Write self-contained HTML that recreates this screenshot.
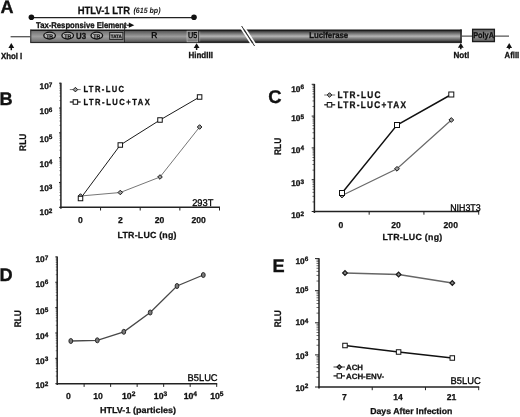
<!DOCTYPE html>
<html><head><meta charset="utf-8"><title>Figure</title>
<style>
html,body{margin:0;padding:0;background:#fff;}
body{width:520px;height:417px;overflow:hidden;font-family:"Liberation Sans",sans-serif;}
svg{display:block;font-family:"Liberation Sans",sans-serif;filter:grayscale(1);}
</style></head><body>
<svg width="520" height="417" viewBox="0 0 520 417" text-rendering="geometricPrecision">
<defs>
<linearGradient id="cyl" x1="0" y1="0" x2="0" y2="1">
<stop offset="0" stop-color="#3a3a3a"/>
<stop offset="0.08" stop-color="#1c1c1c"/>
<stop offset="0.17" stop-color="#4e4e4e"/>
<stop offset="0.5" stop-color="#b4b4b4"/>
<stop offset="0.83" stop-color="#4e4e4e"/>
<stop offset="0.92" stop-color="#1c1c1c"/>
<stop offset="1" stop-color="#3a3a3a"/>
</linearGradient>
<linearGradient id="flat" x1="0" y1="0" x2="0" y2="1">
<stop offset="0" stop-color="#727272"/>
<stop offset="0.5" stop-color="#9e9e9e"/>
<stop offset="1" stop-color="#727272"/>
</linearGradient>
<linearGradient id="u5" x1="0" y1="0" x2="0" y2="1">
<stop offset="0" stop-color="#707070"/>
<stop offset="0.5" stop-color="#a8a8a8"/>
<stop offset="1" stop-color="#707070"/>
</linearGradient>
<linearGradient id="rreg" x1="0" y1="0" x2="0" y2="1">
<stop offset="0" stop-color="#585858"/>
<stop offset="0.5" stop-color="#9c9c9c"/>
<stop offset="1" stop-color="#585858"/>
</linearGradient>
</defs>
<rect width="520" height="417" fill="#fff"/>

<g id="A">
<text x="0.5" y="12.7" font-size="18" font-weight="bold" text-anchor="start" fill="#111" stroke="#111" stroke-width="0.35" >A</text>
<text x="77.7" y="13.5" font-size="10.6" font-weight="bold" text-anchor="start" fill="#111" textLength="52.3" lengthAdjust="spacingAndGlyphs" stroke="#111" stroke-width="0.25" >HTLV-1 LTR</text>
<text x="133.5" y="12.8" font-size="7.8" font-weight="bold" text-anchor="start" fill="#111" textLength="27" lengthAdjust="spacingAndGlyphs" font-style="italic">(615 bp)</text>
<line x1="31" y1="17.5" x2="194" y2="17.5" stroke="#222" stroke-width="1.25"/>
<circle cx="31.4" cy="17.3" r="2.8" fill="#111"/><circle cx="194" cy="17.3" r="2.8" fill="#111"/>
<text x="36" y="27.6" font-size="8.4" font-weight="bold" text-anchor="start" fill="#111" textLength="90.6" lengthAdjust="spacingAndGlyphs" stroke="#111" stroke-width="0.3" >Tax-Responsive Element</text>
<path d="M126.5 25.2h3" stroke="#111" stroke-width="1.1"/><path d="M128.8 22.6L134.3 25.2L128.8 27.8Z" fill="#111"/>
<line x1="124.6" y1="25" x2="124.6" y2="30" stroke="#222" stroke-width="0.9"/>
<line x1="10.6" y1="36.7" x2="31" y2="36.7" stroke="#555" stroke-width="1.3"/>
<line x1="461" y1="36.2" x2="509" y2="36.2" stroke="#555" stroke-width="1.3"/>
<rect x="30.3" y="29.4" width="431.4" height="13.7" fill="url(#cyl)"/>
<rect x="460.3" y="29.4" width="1.4" height="13.7" fill="#222"/>
<rect x="30.8" y="31" width="93.5" height="10.9" fill="url(#flat)"/>
<rect x="30.3" y="29.6" width="1" height="13.2" fill="#333"/>
<rect x="124.9" y="31" width="61.8" height="10.9" fill="url(#rreg)"/>
<line x1="124.5" y1="29.6" x2="124.5" y2="42.8" stroke="#222" stroke-width="0.8"/>
<ellipse cx="49.6" cy="35.6" rx="5.8" ry="3.4" fill="#b4b4b4" stroke="#111" stroke-width="1.3"/>
<text x="49.6" y="37.5" font-size="5.2" font-weight="bold" text-anchor="middle" fill="#111" stroke="#111" stroke-width="0.2" >TR</text>
<ellipse cx="67.7" cy="35.6" rx="5.8" ry="3.4" fill="#b4b4b4" stroke="#111" stroke-width="1.3"/>
<text x="67.7" y="37.5" font-size="5.2" font-weight="bold" text-anchor="middle" fill="#111" stroke="#111" stroke-width="0.2" >TR</text>
<ellipse cx="96.8" cy="35.6" rx="5.8" ry="3.4" fill="#b4b4b4" stroke="#111" stroke-width="1.3"/>
<text x="96.8" y="37.5" font-size="5.2" font-weight="bold" text-anchor="middle" fill="#111" stroke="#111" stroke-width="0.2" >TR</text>
<text x="76" y="38.5" font-size="8.8" font-weight="bold" text-anchor="start" fill="#111" textLength="10" lengthAdjust="spacingAndGlyphs" stroke="#111" stroke-width="0.3" >U3</text>
<rect x="109.7" y="32.4" width="13.2" height="7" fill="#adadad" stroke="#222" stroke-width="1"/>
<text x="116.3" y="37.7" font-size="4.8" font-weight="bold" text-anchor="middle" fill="#111" textLength="11" lengthAdjust="spacingAndGlyphs" stroke="#111" stroke-width="0.25" >TATA</text>
<text x="154.3" y="38.1" font-size="8.4" font-weight="normal" text-anchor="middle" fill="#000" stroke="#000" stroke-width="0.4" >R</text>
<rect x="187" y="31.2" width="11" height="10.6" fill="url(#u5)" stroke="#b8b8b8" stroke-width="0.7"/>
<line x1="198.7" y1="30.5" x2="198.7" y2="42.5" stroke="#2a2a2a" stroke-width="0.9"/><line x1="199.7" y1="31.5" x2="199.7" y2="41.5" stroke="#b0b0b0" stroke-width="0.8" opacity="0.7"/>
<text x="192.7" y="38.1" font-size="8.6" font-weight="normal" text-anchor="middle" fill="#000" textLength="9.2" lengthAdjust="spacingAndGlyphs" stroke="#000" stroke-width="0.35" >U5</text>
<path d="M239.8 26L252.8 46" stroke="#fff" stroke-width="1.7"/><path d="M243.4 26L256.4 46" stroke="#fff" stroke-width="1.7"/>
<path d="M241.6 26L254.6 46" stroke="#2a2a2a" stroke-width="1"/>
<text x="309.2" y="38.2" font-size="8.5" font-weight="bold" text-anchor="start" fill="#111" textLength="39" lengthAdjust="spacingAndGlyphs" stroke="#111" stroke-width="0.35" >Luciferase</text>
<rect x="472.6" y="29.3" width="21.8" height="12.3" fill="url(#rreg)" stroke="#1c1c1c" stroke-width="1.3"/>
<text x="473.2" y="38.3" font-size="8.4" font-weight="bold" text-anchor="start" fill="#111" textLength="20.8" lengthAdjust="spacingAndGlyphs" stroke="#111" stroke-width="0.35" >PolyA</text>
<path d="M11.3 45.3V50.2" stroke="#111" stroke-width="1.5"/><path d="M8.4 47.9L11.3 43.0L14.200000000000001 47.9Z" fill="#111"/>
<text x="0.9" y="58.5" font-size="8.7" font-weight="bold" text-anchor="start" fill="#111" textLength="21.4" lengthAdjust="spacingAndGlyphs" stroke="#111" stroke-width="0.3" >XhoI I</text>
<path d="M196.6 45.5V50" stroke="#111" stroke-width="1.5"/><path d="M193.7 48.1L196.6 43.2L199.5 48.1Z" fill="#111"/>
<text x="188.5" y="58.4" font-size="8.7" font-weight="bold" text-anchor="start" fill="#111" textLength="24.4" lengthAdjust="spacingAndGlyphs" stroke="#111" stroke-width="0.3" >HindIII</text>
<path d="M460.8 45.2V49.3" stroke="#111" stroke-width="1.5"/><path d="M457.90000000000003 47.800000000000004L460.8 42.900000000000006L463.7 47.800000000000004Z" fill="#111"/>
<text x="453.5" y="57.7" font-size="8.7" font-weight="bold" text-anchor="start" fill="#111" textLength="15.7" lengthAdjust="spacingAndGlyphs" stroke="#111" stroke-width="0.3" >NotI</text>
<path d="M509.2 45.4V49.3" stroke="#111" stroke-width="1.5"/><path d="M506.3 48.0L509.2 43.1L512.1 48.0Z" fill="#111"/>
<text x="504.6" y="57.7" font-size="8.7" font-weight="bold" text-anchor="start" fill="#111" textLength="14.6" lengthAdjust="spacingAndGlyphs" stroke="#111" stroke-width="0.3" >AflII</text>
</g>
<g id="B">
<text x="-0.5" y="104.6" font-size="18.2" font-weight="bold" text-anchor="start" fill="#111" stroke="#111" stroke-width="0.35" >B</text>
<text transform="translate(25.5 142.3) rotate(-90)" font-size="9.6" font-weight="bold" text-anchor="middle" fill="#111" stroke="#111" stroke-width="0.25" textLength="17.2" lengthAdjust="spacingAndGlyphs">RLU</text>
<line x1="60.9" y1="82.8" x2="60.9" y2="208.8" stroke="#222" stroke-width="1.5"/>
<line x1="58.99999999999999" y1="83.20" x2="60.9" y2="83.20" stroke="#222" stroke-width="1"/>
<text x="39.6" y="89.35" font-size="8.3" font-weight="bold" text-anchor="start" fill="#111" stroke="#111" stroke-width="0.3">10<tspan font-size="6.4" dy="-2.4">7</tspan></text>
<line x1="59.4" y1="100.55" x2="60.9" y2="100.55" stroke="#222" stroke-width="0.85" opacity="0.6"/>
<line x1="59.4" y1="96.18" x2="60.9" y2="96.18" stroke="#222" stroke-width="0.85" opacity="0.6"/>
<line x1="59.4" y1="93.08" x2="60.9" y2="93.08" stroke="#222" stroke-width="0.85" opacity="0.6"/>
<line x1="59.4" y1="90.67" x2="60.9" y2="90.67" stroke="#222" stroke-width="0.85" opacity="0.6"/>
<line x1="59.4" y1="88.71" x2="60.9" y2="88.71" stroke="#222" stroke-width="0.85" opacity="0.6"/>
<line x1="59.4" y1="87.04" x2="60.9" y2="87.04" stroke="#222" stroke-width="0.85" opacity="0.6"/>
<line x1="59.4" y1="85.61" x2="60.9" y2="85.61" stroke="#222" stroke-width="0.85" opacity="0.6"/>
<line x1="59.4" y1="84.34" x2="60.9" y2="84.34" stroke="#222" stroke-width="0.85" opacity="0.6"/>
<line x1="58.99999999999999" y1="108.02" x2="60.9" y2="108.02" stroke="#222" stroke-width="1"/>
<text x="39.6" y="114.05" font-size="8.3" font-weight="bold" text-anchor="start" fill="#111" stroke="#111" stroke-width="0.3">10<tspan font-size="6.4" dy="-2.4">6</tspan></text>
<line x1="59.4" y1="125.37" x2="60.9" y2="125.37" stroke="#222" stroke-width="0.85" opacity="0.6"/>
<line x1="59.4" y1="121.00" x2="60.9" y2="121.00" stroke="#222" stroke-width="0.85" opacity="0.6"/>
<line x1="59.4" y1="117.90" x2="60.9" y2="117.90" stroke="#222" stroke-width="0.85" opacity="0.6"/>
<line x1="59.4" y1="115.49" x2="60.9" y2="115.49" stroke="#222" stroke-width="0.85" opacity="0.6"/>
<line x1="59.4" y1="113.53" x2="60.9" y2="113.53" stroke="#222" stroke-width="0.85" opacity="0.6"/>
<line x1="59.4" y1="111.86" x2="60.9" y2="111.86" stroke="#222" stroke-width="0.85" opacity="0.6"/>
<line x1="59.4" y1="110.43" x2="60.9" y2="110.43" stroke="#222" stroke-width="0.85" opacity="0.6"/>
<line x1="59.4" y1="109.16" x2="60.9" y2="109.16" stroke="#222" stroke-width="0.85" opacity="0.6"/>
<line x1="58.99999999999999" y1="132.84" x2="60.9" y2="132.84" stroke="#222" stroke-width="1"/>
<text x="39.6" y="141.65" font-size="8.3" font-weight="bold" text-anchor="start" fill="#111" stroke="#111" stroke-width="0.3">10<tspan font-size="6.4" dy="-2.4">5</tspan></text>
<line x1="59.4" y1="150.19" x2="60.9" y2="150.19" stroke="#222" stroke-width="0.85" opacity="0.6"/>
<line x1="59.4" y1="145.82" x2="60.9" y2="145.82" stroke="#222" stroke-width="0.85" opacity="0.6"/>
<line x1="59.4" y1="142.72" x2="60.9" y2="142.72" stroke="#222" stroke-width="0.85" opacity="0.6"/>
<line x1="59.4" y1="140.31" x2="60.9" y2="140.31" stroke="#222" stroke-width="0.85" opacity="0.6"/>
<line x1="59.4" y1="138.35" x2="60.9" y2="138.35" stroke="#222" stroke-width="0.85" opacity="0.6"/>
<line x1="59.4" y1="136.68" x2="60.9" y2="136.68" stroke="#222" stroke-width="0.85" opacity="0.6"/>
<line x1="59.4" y1="135.25" x2="60.9" y2="135.25" stroke="#222" stroke-width="0.85" opacity="0.6"/>
<line x1="59.4" y1="133.98" x2="60.9" y2="133.98" stroke="#222" stroke-width="0.85" opacity="0.6"/>
<line x1="58.99999999999999" y1="157.66" x2="60.9" y2="157.66" stroke="#222" stroke-width="1"/>
<text x="39.6" y="166.65" font-size="8.3" font-weight="bold" text-anchor="start" fill="#111" stroke="#111" stroke-width="0.3">10<tspan font-size="6.4" dy="-2.4">4</tspan></text>
<line x1="59.4" y1="175.01" x2="60.9" y2="175.01" stroke="#222" stroke-width="0.85" opacity="0.6"/>
<line x1="59.4" y1="170.64" x2="60.9" y2="170.64" stroke="#222" stroke-width="0.85" opacity="0.6"/>
<line x1="59.4" y1="167.54" x2="60.9" y2="167.54" stroke="#222" stroke-width="0.85" opacity="0.6"/>
<line x1="59.4" y1="165.13" x2="60.9" y2="165.13" stroke="#222" stroke-width="0.85" opacity="0.6"/>
<line x1="59.4" y1="163.17" x2="60.9" y2="163.17" stroke="#222" stroke-width="0.85" opacity="0.6"/>
<line x1="59.4" y1="161.50" x2="60.9" y2="161.50" stroke="#222" stroke-width="0.85" opacity="0.6"/>
<line x1="59.4" y1="160.07" x2="60.9" y2="160.07" stroke="#222" stroke-width="0.85" opacity="0.6"/>
<line x1="59.4" y1="158.80" x2="60.9" y2="158.80" stroke="#222" stroke-width="0.85" opacity="0.6"/>
<line x1="58.99999999999999" y1="182.48" x2="60.9" y2="182.48" stroke="#222" stroke-width="1"/>
<text x="39.6" y="191.05" font-size="8.3" font-weight="bold" text-anchor="start" fill="#111" stroke="#111" stroke-width="0.3">10<tspan font-size="6.4" dy="-2.4">3</tspan></text>
<line x1="59.4" y1="199.83" x2="60.9" y2="199.83" stroke="#222" stroke-width="0.85" opacity="0.6"/>
<line x1="59.4" y1="195.46" x2="60.9" y2="195.46" stroke="#222" stroke-width="0.85" opacity="0.6"/>
<line x1="59.4" y1="192.36" x2="60.9" y2="192.36" stroke="#222" stroke-width="0.85" opacity="0.6"/>
<line x1="59.4" y1="189.95" x2="60.9" y2="189.95" stroke="#222" stroke-width="0.85" opacity="0.6"/>
<line x1="59.4" y1="187.99" x2="60.9" y2="187.99" stroke="#222" stroke-width="0.85" opacity="0.6"/>
<line x1="59.4" y1="186.32" x2="60.9" y2="186.32" stroke="#222" stroke-width="0.85" opacity="0.6"/>
<line x1="59.4" y1="184.89" x2="60.9" y2="184.89" stroke="#222" stroke-width="0.85" opacity="0.6"/>
<line x1="59.4" y1="183.62" x2="60.9" y2="183.62" stroke="#222" stroke-width="0.85" opacity="0.6"/>
<line x1="58.99999999999999" y1="207.30" x2="60.9" y2="207.30" stroke="#222" stroke-width="1"/>
<text x="39.6" y="215.45" font-size="8.3" font-weight="bold" text-anchor="start" fill="#111" stroke="#111" stroke-width="0.3">10<tspan font-size="6.4" dy="-2.4">2</tspan></text>
<line x1="60.199999999999996" y1="207.3" x2="220.0" y2="207.3" stroke="#222" stroke-width="1.4"/>
<line x1="100.55" y1="207.3" x2="100.55" y2="210.5" stroke="#222" stroke-width="1"/>
<line x1="140.20" y1="207.3" x2="140.20" y2="210.5" stroke="#222" stroke-width="1"/>
<line x1="179.85" y1="207.3" x2="179.85" y2="210.5" stroke="#222" stroke-width="1"/>
<line x1="219.50" y1="207.3" x2="219.50" y2="210.5" stroke="#222" stroke-width="1"/>
<polyline fill="none" stroke="#777" stroke-width="1" points="80.5,196 120.3,192.5 160,177 199.6,127"/>
<polyline fill="none" stroke="#1a1a1a" stroke-width="1.0" points="80.5,198.5 120.3,145 160,120 199.6,97"/>
<path d="M78.2 196L80.5 193.7L82.8 196L80.5 198.3Z" fill="#9a9a9a" stroke="#1a1a1a" stroke-width="1" stroke-linejoin="miter"/>
<path d="M118.0 192.5L120.3 190.2L122.6 192.5L120.3 194.8Z" fill="#9a9a9a" stroke="#1a1a1a" stroke-width="1" stroke-linejoin="miter"/>
<path d="M157.7 177L160 174.7L162.3 177L160 179.3Z" fill="#9a9a9a" stroke="#1a1a1a" stroke-width="1" stroke-linejoin="miter"/>
<path d="M197.29999999999998 127L199.6 124.7L201.9 127L199.6 129.3Z" fill="#9a9a9a" stroke="#1a1a1a" stroke-width="1" stroke-linejoin="miter"/>
<rect x="78.25" y="196.25" width="4.5" height="4.5" fill="#fff" stroke="#111" stroke-width="1"/>
<rect x="118.05" y="142.75" width="4.5" height="4.5" fill="#fff" stroke="#111" stroke-width="1"/>
<rect x="157.75" y="117.75" width="4.5" height="4.5" fill="#fff" stroke="#111" stroke-width="1"/>
<rect x="197.35" y="94.75" width="4.5" height="4.5" fill="#fff" stroke="#111" stroke-width="1"/>
<text x="80.5" y="222.9" font-size="8.6" font-weight="bold" text-anchor="middle" fill="#111" stroke="#111" stroke-width="0.25" >0</text>
<text x="120.3" y="222.9" font-size="8.6" font-weight="bold" text-anchor="middle" fill="#111" stroke="#111" stroke-width="0.25" >2</text>
<text x="159.6" y="222.9" font-size="8.6" font-weight="bold" text-anchor="middle" fill="#111" stroke="#111" stroke-width="0.25" >20</text>
<text x="198.7" y="222.9" font-size="8.6" font-weight="bold" text-anchor="middle" fill="#111" stroke="#111" stroke-width="0.25" >200</text>
<text x="117.5" y="237.6" font-size="8.8" font-weight="bold" text-anchor="start" fill="#111" textLength="59" lengthAdjust="spacing" stroke="#111" stroke-width="0.25" >LTR-LUC (ng)</text>
<text x="192.2" y="205.6" font-size="9.7" font-weight="normal" text-anchor="start" fill="#000" textLength="21.2" lengthAdjust="spacingAndGlyphs" stroke="#000" stroke-width="0.3" >293T</text>
<line x1="69.8" y1="89.6" x2="80.7" y2="89.6" stroke="#777" stroke-width="1"/>
<path d="M73.10000000000001 89.6L75.4 87.3L77.7 89.6L75.4 91.89999999999999Z" fill="#9a9a9a" stroke="#1a1a1a" stroke-width="1" stroke-linejoin="miter"/>
<text transform="translate(83.4 92.1) scale(0.86 1)" font-size="8.8" font-weight="bold" fill="#111" stroke="#111" stroke-width="0.3" textLength="47.21" lengthAdjust="spacing">LTR-LUC</text>
<line x1="69.8" y1="102" x2="80.7" y2="102" stroke="#111" stroke-width="1.2"/>
<rect x="73.15" y="99.75" width="4.5" height="4.5" fill="#fff" stroke="#111" stroke-width="1"/>
<text transform="translate(83.4 104.7) scale(0.86 1)" font-size="8.8" font-weight="bold" fill="#111" stroke="#111" stroke-width="0.3" textLength="77.21" lengthAdjust="spacing">LTR-LUC+TAX</text>
</g>
<g id="C">
<text x="268.2" y="102.8" font-size="18.4" font-weight="bold" text-anchor="start" fill="#111" stroke="#111" stroke-width="0.35" >C</text>
<text transform="translate(280.5 146.4) rotate(-90)" font-size="9.6" font-weight="bold" text-anchor="middle" fill="#111" stroke="#111" stroke-width="0.25" textLength="17.2" lengthAdjust="spacingAndGlyphs">RLU</text>
<line x1="314.4" y1="83.89999999999999" x2="314.4" y2="213.0" stroke="#222" stroke-width="1.5"/>
<line x1="311.7" y1="84.30" x2="314.4" y2="84.30" stroke="#222" stroke-width="1"/>
<text x="291.2" y="91.65" font-size="8.3" font-weight="bold" text-anchor="start" fill="#111" stroke="#111" stroke-width="0.3">10<tspan font-size="6.4" dy="-2.4">6</tspan></text>
<line x1="312.5" y1="106.53" x2="314.4" y2="106.53" stroke="#222" stroke-width="0.85" opacity="0.8"/>
<line x1="312.5" y1="100.93" x2="314.4" y2="100.93" stroke="#222" stroke-width="0.85" opacity="0.8"/>
<line x1="312.5" y1="96.95" x2="314.4" y2="96.95" stroke="#222" stroke-width="0.85" opacity="0.8"/>
<line x1="312.5" y1="93.87" x2="314.4" y2="93.87" stroke="#222" stroke-width="0.85" opacity="0.8"/>
<line x1="312.5" y1="91.35" x2="314.4" y2="91.35" stroke="#222" stroke-width="0.85" opacity="0.8"/>
<line x1="312.5" y1="89.23" x2="314.4" y2="89.23" stroke="#222" stroke-width="0.85" opacity="0.8"/>
<line x1="312.5" y1="87.38" x2="314.4" y2="87.38" stroke="#222" stroke-width="0.85" opacity="0.8"/>
<line x1="312.5" y1="85.76" x2="314.4" y2="85.76" stroke="#222" stroke-width="0.85" opacity="0.8"/>
<line x1="311.7" y1="116.10" x2="314.4" y2="116.10" stroke="#222" stroke-width="1"/>
<text x="291.2" y="121.15" font-size="8.3" font-weight="bold" text-anchor="start" fill="#111" stroke="#111" stroke-width="0.3">10<tspan font-size="6.4" dy="-2.4">5</tspan></text>
<line x1="312.5" y1="138.33" x2="314.4" y2="138.33" stroke="#222" stroke-width="0.85" opacity="0.8"/>
<line x1="312.5" y1="132.73" x2="314.4" y2="132.73" stroke="#222" stroke-width="0.85" opacity="0.8"/>
<line x1="312.5" y1="128.75" x2="314.4" y2="128.75" stroke="#222" stroke-width="0.85" opacity="0.8"/>
<line x1="312.5" y1="125.67" x2="314.4" y2="125.67" stroke="#222" stroke-width="0.85" opacity="0.8"/>
<line x1="312.5" y1="123.15" x2="314.4" y2="123.15" stroke="#222" stroke-width="0.85" opacity="0.8"/>
<line x1="312.5" y1="121.03" x2="314.4" y2="121.03" stroke="#222" stroke-width="0.85" opacity="0.8"/>
<line x1="312.5" y1="119.18" x2="314.4" y2="119.18" stroke="#222" stroke-width="0.85" opacity="0.8"/>
<line x1="312.5" y1="117.56" x2="314.4" y2="117.56" stroke="#222" stroke-width="0.85" opacity="0.8"/>
<line x1="311.7" y1="147.90" x2="314.4" y2="147.90" stroke="#222" stroke-width="1"/>
<text x="291.2" y="152.80" font-size="8.3" font-weight="bold" text-anchor="start" fill="#111" stroke="#111" stroke-width="0.3">10<tspan font-size="6.4" dy="-2.4">4</tspan></text>
<line x1="312.5" y1="170.13" x2="314.4" y2="170.13" stroke="#222" stroke-width="0.85" opacity="0.8"/>
<line x1="312.5" y1="164.53" x2="314.4" y2="164.53" stroke="#222" stroke-width="0.85" opacity="0.8"/>
<line x1="312.5" y1="160.55" x2="314.4" y2="160.55" stroke="#222" stroke-width="0.85" opacity="0.8"/>
<line x1="312.5" y1="157.47" x2="314.4" y2="157.47" stroke="#222" stroke-width="0.85" opacity="0.8"/>
<line x1="312.5" y1="154.95" x2="314.4" y2="154.95" stroke="#222" stroke-width="0.85" opacity="0.8"/>
<line x1="312.5" y1="152.83" x2="314.4" y2="152.83" stroke="#222" stroke-width="0.85" opacity="0.8"/>
<line x1="312.5" y1="150.98" x2="314.4" y2="150.98" stroke="#222" stroke-width="0.85" opacity="0.8"/>
<line x1="312.5" y1="149.36" x2="314.4" y2="149.36" stroke="#222" stroke-width="0.85" opacity="0.8"/>
<line x1="311.7" y1="179.70" x2="314.4" y2="179.70" stroke="#222" stroke-width="1"/>
<text x="291.2" y="186.45" font-size="8.3" font-weight="bold" text-anchor="start" fill="#111" stroke="#111" stroke-width="0.3">10<tspan font-size="6.4" dy="-2.4">3</tspan></text>
<line x1="312.5" y1="201.93" x2="314.4" y2="201.93" stroke="#222" stroke-width="0.85" opacity="0.8"/>
<line x1="312.5" y1="196.33" x2="314.4" y2="196.33" stroke="#222" stroke-width="0.85" opacity="0.8"/>
<line x1="312.5" y1="192.35" x2="314.4" y2="192.35" stroke="#222" stroke-width="0.85" opacity="0.8"/>
<line x1="312.5" y1="189.27" x2="314.4" y2="189.27" stroke="#222" stroke-width="0.85" opacity="0.8"/>
<line x1="312.5" y1="186.75" x2="314.4" y2="186.75" stroke="#222" stroke-width="0.85" opacity="0.8"/>
<line x1="312.5" y1="184.63" x2="314.4" y2="184.63" stroke="#222" stroke-width="0.85" opacity="0.8"/>
<line x1="312.5" y1="182.78" x2="314.4" y2="182.78" stroke="#222" stroke-width="0.85" opacity="0.8"/>
<line x1="312.5" y1="181.16" x2="314.4" y2="181.16" stroke="#222" stroke-width="0.85" opacity="0.8"/>
<line x1="311.7" y1="211.50" x2="314.4" y2="211.50" stroke="#222" stroke-width="1"/>
<text x="291.2" y="218.35" font-size="8.3" font-weight="bold" text-anchor="start" fill="#111" stroke="#111" stroke-width="0.3">10<tspan font-size="6.4" dy="-2.4">2</tspan></text>
<line x1="313.7" y1="211.5" x2="479.2" y2="211.5" stroke="#222" stroke-width="1.4"/>
<line x1="369.17" y1="211.5" x2="369.17" y2="214.7" stroke="#222" stroke-width="1"/>
<line x1="423.93" y1="211.5" x2="423.93" y2="214.7" stroke="#222" stroke-width="1"/>
<line x1="478.70" y1="211.5" x2="478.70" y2="214.7" stroke="#222" stroke-width="1"/>
<polyline fill="none" stroke="#6a6a6a" stroke-width="1.25" points="342,195.5 397,168.8 451.3,120"/>
<polyline fill="none" stroke="#111" stroke-width="1.45" points="342,193 397,125 451.3,94.5"/>
<path d="M339.6 195.5L342 193.1L344.4 195.5L342 197.9Z" fill="#9a9a9a" stroke="#1a1a1a" stroke-width="1" stroke-linejoin="miter"/>
<path d="M394.6 168.8L397 166.4L399.4 168.8L397 171.20000000000002Z" fill="#9a9a9a" stroke="#1a1a1a" stroke-width="1" stroke-linejoin="miter"/>
<path d="M448.90000000000003 120L451.3 117.6L453.7 120L451.3 122.4Z" fill="#9a9a9a" stroke="#1a1a1a" stroke-width="1" stroke-linejoin="miter"/>
<rect x="339.5" y="190.5" width="5" height="5" fill="#fff" stroke="#111" stroke-width="1"/>
<rect x="394.5" y="122.5" width="5" height="5" fill="#fff" stroke="#111" stroke-width="1"/>
<rect x="448.8" y="92.0" width="5" height="5" fill="#fff" stroke="#111" stroke-width="1"/>
<text x="340.8" y="227.9" font-size="8.6" font-weight="bold" text-anchor="middle" fill="#111" stroke="#111" stroke-width="0.25" >0</text>
<text x="396" y="227.9" font-size="8.6" font-weight="bold" text-anchor="middle" fill="#111" stroke="#111" stroke-width="0.25" >20</text>
<text x="450.75" y="227.9" font-size="8.6" font-weight="bold" text-anchor="middle" fill="#111" stroke="#111" stroke-width="0.25" >200</text>
<text x="382.5" y="240.2" font-size="8.8" font-weight="bold" text-anchor="start" fill="#111" textLength="59.8" lengthAdjust="spacing" stroke="#111" stroke-width="0.25" >LTR-LUC (ng)</text>
<text x="450.2" y="210.6" font-size="9.7" font-weight="normal" text-anchor="start" fill="#000" textLength="30.5" lengthAdjust="spacingAndGlyphs" stroke="#000" stroke-width="0.3" >NIH3T3</text>
<line x1="324.2" y1="95" x2="335.2" y2="95" stroke="#777" stroke-width="1"/>
<path d="M327.2 95L329.5 92.7L331.8 95L329.5 97.3Z" fill="#9a9a9a" stroke="#1a1a1a" stroke-width="1" stroke-linejoin="miter"/>
<text transform="translate(337.5 98) scale(0.86 1)" font-size="9.6" font-weight="bold" fill="#111" stroke="#111" stroke-width="0.3" textLength="50.00" lengthAdjust="spacing">LTR-LUC</text>
<line x1="324.2" y1="104.8" x2="335.2" y2="104.8" stroke="#111" stroke-width="1.2"/>
<rect x="327.25" y="102.55" width="4.5" height="4.5" fill="#fff" stroke="#111" stroke-width="1"/>
<text transform="translate(337.5 107.9) scale(0.86 1)" font-size="9.6" font-weight="bold" fill="#111" stroke="#111" stroke-width="0.3" textLength="79.65" lengthAdjust="spacing">LTR-LUC+TAX</text>
</g>
<g id="D">
<text x="-0.5" y="280.6" font-size="18.2" font-weight="bold" text-anchor="start" fill="#111" stroke="#111" stroke-width="0.35" >D</text>
<text transform="translate(20.8 318.7) rotate(-90)" font-size="9.6" font-weight="bold" text-anchor="middle" fill="#111" stroke="#111" stroke-width="0.25" textLength="17.2" lengthAdjust="spacingAndGlyphs">RLU</text>
<line x1="57.2" y1="256.5" x2="57.2" y2="384.9" stroke="#222" stroke-width="1.5"/>
<line x1="55.3" y1="256.90" x2="57.2" y2="256.90" stroke="#222" stroke-width="1"/>
<text x="35.5" y="262.45" font-size="8.3" font-weight="bold" text-anchor="start" fill="#111" stroke="#111" stroke-width="0.3">10<tspan font-size="6.4" dy="-2.4">7</tspan></text>
<line x1="55.7" y1="274.63" x2="57.2" y2="274.63" stroke="#222" stroke-width="0.85" opacity="0.6"/>
<line x1="55.7" y1="270.16" x2="57.2" y2="270.16" stroke="#222" stroke-width="0.85" opacity="0.6"/>
<line x1="55.7" y1="266.99" x2="57.2" y2="266.99" stroke="#222" stroke-width="0.85" opacity="0.6"/>
<line x1="55.7" y1="264.53" x2="57.2" y2="264.53" stroke="#222" stroke-width="0.85" opacity="0.6"/>
<line x1="55.7" y1="262.53" x2="57.2" y2="262.53" stroke="#222" stroke-width="0.85" opacity="0.6"/>
<line x1="55.7" y1="260.83" x2="57.2" y2="260.83" stroke="#222" stroke-width="0.85" opacity="0.6"/>
<line x1="55.7" y1="259.36" x2="57.2" y2="259.36" stroke="#222" stroke-width="0.85" opacity="0.6"/>
<line x1="55.7" y1="258.06" x2="57.2" y2="258.06" stroke="#222" stroke-width="0.85" opacity="0.6"/>
<line x1="55.3" y1="282.26" x2="57.2" y2="282.26" stroke="#222" stroke-width="1"/>
<text x="35.5" y="286.85" font-size="8.3" font-weight="bold" text-anchor="start" fill="#111" stroke="#111" stroke-width="0.3">10<tspan font-size="6.4" dy="-2.4">6</tspan></text>
<line x1="55.7" y1="299.99" x2="57.2" y2="299.99" stroke="#222" stroke-width="0.85" opacity="0.6"/>
<line x1="55.7" y1="295.52" x2="57.2" y2="295.52" stroke="#222" stroke-width="0.85" opacity="0.6"/>
<line x1="55.7" y1="292.35" x2="57.2" y2="292.35" stroke="#222" stroke-width="0.85" opacity="0.6"/>
<line x1="55.7" y1="289.89" x2="57.2" y2="289.89" stroke="#222" stroke-width="0.85" opacity="0.6"/>
<line x1="55.7" y1="287.89" x2="57.2" y2="287.89" stroke="#222" stroke-width="0.85" opacity="0.6"/>
<line x1="55.7" y1="286.19" x2="57.2" y2="286.19" stroke="#222" stroke-width="0.85" opacity="0.6"/>
<line x1="55.7" y1="284.72" x2="57.2" y2="284.72" stroke="#222" stroke-width="0.85" opacity="0.6"/>
<line x1="55.7" y1="283.42" x2="57.2" y2="283.42" stroke="#222" stroke-width="0.85" opacity="0.6"/>
<line x1="55.3" y1="307.62" x2="57.2" y2="307.62" stroke="#222" stroke-width="1"/>
<text x="35.5" y="314.45" font-size="8.3" font-weight="bold" text-anchor="start" fill="#111" stroke="#111" stroke-width="0.3">10<tspan font-size="6.4" dy="-2.4">5</tspan></text>
<line x1="55.7" y1="325.35" x2="57.2" y2="325.35" stroke="#222" stroke-width="0.85" opacity="0.6"/>
<line x1="55.7" y1="320.88" x2="57.2" y2="320.88" stroke="#222" stroke-width="0.85" opacity="0.6"/>
<line x1="55.7" y1="317.71" x2="57.2" y2="317.71" stroke="#222" stroke-width="0.85" opacity="0.6"/>
<line x1="55.7" y1="315.25" x2="57.2" y2="315.25" stroke="#222" stroke-width="0.85" opacity="0.6"/>
<line x1="55.7" y1="313.25" x2="57.2" y2="313.25" stroke="#222" stroke-width="0.85" opacity="0.6"/>
<line x1="55.7" y1="311.55" x2="57.2" y2="311.55" stroke="#222" stroke-width="0.85" opacity="0.6"/>
<line x1="55.7" y1="310.08" x2="57.2" y2="310.08" stroke="#222" stroke-width="0.85" opacity="0.6"/>
<line x1="55.7" y1="308.78" x2="57.2" y2="308.78" stroke="#222" stroke-width="0.85" opacity="0.6"/>
<line x1="55.3" y1="332.98" x2="57.2" y2="332.98" stroke="#222" stroke-width="1"/>
<text x="35.5" y="339.25" font-size="8.3" font-weight="bold" text-anchor="start" fill="#111" stroke="#111" stroke-width="0.3">10<tspan font-size="6.4" dy="-2.4">4</tspan></text>
<line x1="55.7" y1="350.71" x2="57.2" y2="350.71" stroke="#222" stroke-width="0.85" opacity="0.6"/>
<line x1="55.7" y1="346.24" x2="57.2" y2="346.24" stroke="#222" stroke-width="0.85" opacity="0.6"/>
<line x1="55.7" y1="343.07" x2="57.2" y2="343.07" stroke="#222" stroke-width="0.85" opacity="0.6"/>
<line x1="55.7" y1="340.61" x2="57.2" y2="340.61" stroke="#222" stroke-width="0.85" opacity="0.6"/>
<line x1="55.7" y1="338.61" x2="57.2" y2="338.61" stroke="#222" stroke-width="0.85" opacity="0.6"/>
<line x1="55.7" y1="336.91" x2="57.2" y2="336.91" stroke="#222" stroke-width="0.85" opacity="0.6"/>
<line x1="55.7" y1="335.44" x2="57.2" y2="335.44" stroke="#222" stroke-width="0.85" opacity="0.6"/>
<line x1="55.7" y1="334.14" x2="57.2" y2="334.14" stroke="#222" stroke-width="0.85" opacity="0.6"/>
<line x1="55.3" y1="358.34" x2="57.2" y2="358.34" stroke="#222" stroke-width="1"/>
<text x="35.5" y="363.65" font-size="8.3" font-weight="bold" text-anchor="start" fill="#111" stroke="#111" stroke-width="0.3">10<tspan font-size="6.4" dy="-2.4">3</tspan></text>
<line x1="55.7" y1="376.07" x2="57.2" y2="376.07" stroke="#222" stroke-width="0.85" opacity="0.6"/>
<line x1="55.7" y1="371.60" x2="57.2" y2="371.60" stroke="#222" stroke-width="0.85" opacity="0.6"/>
<line x1="55.7" y1="368.43" x2="57.2" y2="368.43" stroke="#222" stroke-width="0.85" opacity="0.6"/>
<line x1="55.7" y1="365.97" x2="57.2" y2="365.97" stroke="#222" stroke-width="0.85" opacity="0.6"/>
<line x1="55.7" y1="363.97" x2="57.2" y2="363.97" stroke="#222" stroke-width="0.85" opacity="0.6"/>
<line x1="55.7" y1="362.27" x2="57.2" y2="362.27" stroke="#222" stroke-width="0.85" opacity="0.6"/>
<line x1="55.7" y1="360.80" x2="57.2" y2="360.80" stroke="#222" stroke-width="0.85" opacity="0.6"/>
<line x1="55.7" y1="359.50" x2="57.2" y2="359.50" stroke="#222" stroke-width="0.85" opacity="0.6"/>
<line x1="55.3" y1="383.70" x2="57.2" y2="383.70" stroke="#222" stroke-width="1"/>
<text x="35.5" y="388.45" font-size="8.3" font-weight="bold" text-anchor="start" fill="#111" stroke="#111" stroke-width="0.3">10<tspan font-size="6.4" dy="-2.4">2</tspan></text>
<line x1="56.9" y1="383.7" x2="217.2" y2="383.7" stroke="#222" stroke-width="1.4"/>
<line x1="84.12" y1="383.7" x2="84.12" y2="386.9" stroke="#222" stroke-width="1"/>
<line x1="110.63" y1="383.7" x2="110.63" y2="386.9" stroke="#222" stroke-width="1"/>
<line x1="137.15" y1="383.7" x2="137.15" y2="386.9" stroke="#222" stroke-width="1"/>
<line x1="163.67" y1="383.7" x2="163.67" y2="386.9" stroke="#222" stroke-width="1"/>
<line x1="190.18" y1="383.7" x2="190.18" y2="386.9" stroke="#222" stroke-width="1"/>
<line x1="216.70" y1="383.7" x2="216.70" y2="386.9" stroke="#222" stroke-width="1"/>
<polyline fill="none" stroke="#484848" stroke-width="1.3" points="70.8,341 97.3,340.3 123.8,331.8 150.2,312.5 177,286 203.3,275"/>
<ellipse cx="70.8" cy="341" rx="1.9" ry="2.5" fill="#7a7a7a" stroke="#2a2a2a" stroke-width="1"/>
<ellipse cx="97.3" cy="340.3" rx="1.9" ry="2.5" fill="#7a7a7a" stroke="#2a2a2a" stroke-width="1"/>
<ellipse cx="123.8" cy="331.8" rx="1.9" ry="2.5" fill="#7a7a7a" stroke="#2a2a2a" stroke-width="1"/>
<ellipse cx="150.2" cy="312.5" rx="1.9" ry="2.5" fill="#7a7a7a" stroke="#2a2a2a" stroke-width="1"/>
<ellipse cx="177" cy="286" rx="1.9" ry="2.5" fill="#7a7a7a" stroke="#2a2a2a" stroke-width="1"/>
<ellipse cx="203.3" cy="275" rx="1.9" ry="2.5" fill="#7a7a7a" stroke="#2a2a2a" stroke-width="1"/>
<text x="68.5" y="398.7" font-size="8.7" font-weight="bold" text-anchor="middle" fill="#111" stroke="#111" stroke-width="0.25" >0</text>
<text x="98" y="398.7" font-size="8.7" font-weight="bold" text-anchor="middle" fill="#111" stroke="#111" stroke-width="0.25" >10</text>
<text x="122" y="398.50" font-size="8.7" font-weight="bold" text-anchor="start" fill="#111" stroke="#111" stroke-width="0.3">10<tspan font-size="6.6" dy="-2.4">2</tspan></text>
<text x="153.8" y="398.50" font-size="8.7" font-weight="bold" text-anchor="start" fill="#111" stroke="#111" stroke-width="0.3">10<tspan font-size="6.6" dy="-2.4">3</tspan></text>
<text x="183.7" y="398.50" font-size="8.7" font-weight="bold" text-anchor="start" fill="#111" stroke="#111" stroke-width="0.3">10<tspan font-size="6.6" dy="-2.4">4</tspan></text>
<text x="210.2" y="398.50" font-size="8.7" font-weight="bold" text-anchor="start" fill="#111" stroke="#111" stroke-width="0.3">10<tspan font-size="6.6" dy="-2.4">5</tspan></text>
<text x="100" y="413.4" font-size="8.6" font-weight="bold" text-anchor="start" fill="#111" textLength="76" lengthAdjust="spacingAndGlyphs" stroke="#111" stroke-width="0.25" >HTLV-1 (particles)</text>
<text x="187.6" y="380.6" font-size="9.7" font-weight="normal" text-anchor="start" fill="#000" textLength="30" lengthAdjust="spacingAndGlyphs" stroke="#000" stroke-width="0.3" >B5LUC</text>
</g>
<g id="E">
<text x="272.5" y="271.5" font-size="18.2" font-weight="bold" text-anchor="start" fill="#111" stroke="#111" stroke-width="0.35" >E</text>
<text transform="translate(280.8 318.7) rotate(-90)" font-size="9.6" font-weight="bold" text-anchor="middle" fill="#111" stroke="#111" stroke-width="0.25" textLength="17.2" lengthAdjust="spacingAndGlyphs">RLU</text>
<line x1="319" y1="258.20000000000005" x2="319" y2="388.5" stroke="#222" stroke-width="1.5"/>
<line x1="315.0" y1="258.60" x2="319" y2="258.60" stroke="#222" stroke-width="1"/>
<text x="295.5" y="263.65" font-size="8.3" font-weight="bold" text-anchor="start" fill="#111" stroke="#111" stroke-width="0.3">10<tspan font-size="6.4" dy="-2.4">6</tspan></text>
<line x1="316.5" y1="281.04" x2="319" y2="281.04" stroke="#222" stroke-width="0.85" opacity="0.8"/>
<line x1="316.5" y1="275.38" x2="319" y2="275.38" stroke="#222" stroke-width="0.85" opacity="0.8"/>
<line x1="316.5" y1="271.37" x2="319" y2="271.37" stroke="#222" stroke-width="0.85" opacity="0.8"/>
<line x1="316.5" y1="268.26" x2="319" y2="268.26" stroke="#222" stroke-width="0.85" opacity="0.8"/>
<line x1="316.5" y1="265.72" x2="319" y2="265.72" stroke="#222" stroke-width="0.85" opacity="0.8"/>
<line x1="316.5" y1="263.57" x2="319" y2="263.57" stroke="#222" stroke-width="0.85" opacity="0.8"/>
<line x1="316.5" y1="261.71" x2="319" y2="261.71" stroke="#222" stroke-width="0.85" opacity="0.8"/>
<line x1="316.5" y1="260.07" x2="319" y2="260.07" stroke="#222" stroke-width="0.85" opacity="0.8"/>
<line x1="315.0" y1="290.70" x2="319" y2="290.70" stroke="#222" stroke-width="1"/>
<text x="295.5" y="293.15" font-size="8.3" font-weight="bold" text-anchor="start" fill="#111" stroke="#111" stroke-width="0.3">10<tspan font-size="6.4" dy="-2.4">5</tspan></text>
<line x1="316.5" y1="313.14" x2="319" y2="313.14" stroke="#222" stroke-width="0.85" opacity="0.8"/>
<line x1="316.5" y1="307.48" x2="319" y2="307.48" stroke="#222" stroke-width="0.85" opacity="0.8"/>
<line x1="316.5" y1="303.47" x2="319" y2="303.47" stroke="#222" stroke-width="0.85" opacity="0.8"/>
<line x1="316.5" y1="300.36" x2="319" y2="300.36" stroke="#222" stroke-width="0.85" opacity="0.8"/>
<line x1="316.5" y1="297.82" x2="319" y2="297.82" stroke="#222" stroke-width="0.85" opacity="0.8"/>
<line x1="316.5" y1="295.67" x2="319" y2="295.67" stroke="#222" stroke-width="0.85" opacity="0.8"/>
<line x1="316.5" y1="293.81" x2="319" y2="293.81" stroke="#222" stroke-width="0.85" opacity="0.8"/>
<line x1="316.5" y1="292.17" x2="319" y2="292.17" stroke="#222" stroke-width="0.85" opacity="0.8"/>
<line x1="315.0" y1="322.80" x2="319" y2="322.80" stroke="#222" stroke-width="1"/>
<text x="295.5" y="325.05" font-size="8.3" font-weight="bold" text-anchor="start" fill="#111" stroke="#111" stroke-width="0.3">10<tspan font-size="6.4" dy="-2.4">4</tspan></text>
<line x1="316.5" y1="345.24" x2="319" y2="345.24" stroke="#222" stroke-width="0.85" opacity="0.8"/>
<line x1="316.5" y1="339.58" x2="319" y2="339.58" stroke="#222" stroke-width="0.85" opacity="0.8"/>
<line x1="316.5" y1="335.57" x2="319" y2="335.57" stroke="#222" stroke-width="0.85" opacity="0.8"/>
<line x1="316.5" y1="332.46" x2="319" y2="332.46" stroke="#222" stroke-width="0.85" opacity="0.8"/>
<line x1="316.5" y1="329.92" x2="319" y2="329.92" stroke="#222" stroke-width="0.85" opacity="0.8"/>
<line x1="316.5" y1="327.77" x2="319" y2="327.77" stroke="#222" stroke-width="0.85" opacity="0.8"/>
<line x1="316.5" y1="325.91" x2="319" y2="325.91" stroke="#222" stroke-width="0.85" opacity="0.8"/>
<line x1="316.5" y1="324.27" x2="319" y2="324.27" stroke="#222" stroke-width="0.85" opacity="0.8"/>
<line x1="315.0" y1="354.90" x2="319" y2="354.90" stroke="#222" stroke-width="1"/>
<text x="295.5" y="358.75" font-size="8.3" font-weight="bold" text-anchor="start" fill="#111" stroke="#111" stroke-width="0.3">10<tspan font-size="6.4" dy="-2.4">3</tspan></text>
<line x1="316.5" y1="377.34" x2="319" y2="377.34" stroke="#222" stroke-width="0.85" opacity="0.8"/>
<line x1="316.5" y1="371.68" x2="319" y2="371.68" stroke="#222" stroke-width="0.85" opacity="0.8"/>
<line x1="316.5" y1="367.67" x2="319" y2="367.67" stroke="#222" stroke-width="0.85" opacity="0.8"/>
<line x1="316.5" y1="364.56" x2="319" y2="364.56" stroke="#222" stroke-width="0.85" opacity="0.8"/>
<line x1="316.5" y1="362.02" x2="319" y2="362.02" stroke="#222" stroke-width="0.85" opacity="0.8"/>
<line x1="316.5" y1="359.87" x2="319" y2="359.87" stroke="#222" stroke-width="0.85" opacity="0.8"/>
<line x1="316.5" y1="358.01" x2="319" y2="358.01" stroke="#222" stroke-width="0.85" opacity="0.8"/>
<line x1="316.5" y1="356.37" x2="319" y2="356.37" stroke="#222" stroke-width="0.85" opacity="0.8"/>
<line x1="315.0" y1="387.00" x2="319" y2="387.00" stroke="#222" stroke-width="1"/>
<text x="295.5" y="390.65" font-size="8.3" font-weight="bold" text-anchor="start" fill="#111" stroke="#111" stroke-width="0.3">10<tspan font-size="6.4" dy="-2.4">2</tspan></text>
<line x1="318.3" y1="387" x2="479.2" y2="387" stroke="#222" stroke-width="1.4"/>
<line x1="372.23" y1="387" x2="372.23" y2="390.2" stroke="#222" stroke-width="1"/>
<line x1="425.47" y1="387" x2="425.47" y2="390.2" stroke="#222" stroke-width="1"/>
<line x1="478.70" y1="387" x2="478.70" y2="390.2" stroke="#222" stroke-width="1"/>
<polyline fill="none" stroke="#666" stroke-width="1.5" points="345,273 398.6,274.5 452.3,283"/>
<polyline fill="none" stroke="#111" stroke-width="1.4" points="345,345.5 398.6,352 452.3,358"/>
<path d="M342.65 273L345 270.65L347.35 273L345 275.35Z" fill="#8a8a8a" stroke="#1a1a1a" stroke-width="1.2" stroke-linejoin="miter"/>
<path d="M396.25 274.5L398.6 272.15L400.95000000000005 274.5L398.6 276.85Z" fill="#8a8a8a" stroke="#1a1a1a" stroke-width="1.2" stroke-linejoin="miter"/>
<path d="M449.95 283L452.3 280.65L454.65000000000003 283L452.3 285.35Z" fill="#8a8a8a" stroke="#1a1a1a" stroke-width="1.2" stroke-linejoin="miter"/>
<rect x="342.75" y="343.25" width="4.5" height="4.5" fill="#fff" stroke="#111" stroke-width="1"/>
<rect x="396.35" y="349.75" width="4.5" height="4.5" fill="#fff" stroke="#111" stroke-width="1"/>
<rect x="450.05" y="355.75" width="4.5" height="4.5" fill="#fff" stroke="#111" stroke-width="1"/>
<text x="344.5" y="400" font-size="8.6" font-weight="bold" text-anchor="middle" fill="#111" stroke="#111" stroke-width="0.25" >7</text>
<text x="398" y="400" font-size="8.6" font-weight="bold" text-anchor="middle" fill="#111" stroke="#111" stroke-width="0.25" >14</text>
<text x="451.5" y="400" font-size="8.6" font-weight="bold" text-anchor="middle" fill="#111" stroke="#111" stroke-width="0.25" >21</text>
<text x="370.2" y="413.7" font-size="8.6" font-weight="bold" text-anchor="start" fill="#111" textLength="82.2" lengthAdjust="spacingAndGlyphs" stroke="#111" stroke-width="0.25" >Days After Infection</text>
<text x="450.5" y="383.6" font-size="9.7" font-weight="normal" text-anchor="start" fill="#000" textLength="30.2" lengthAdjust="spacingAndGlyphs" stroke="#000" stroke-width="0.3" >B5LUC</text>
<line x1="333.5" y1="367" x2="345" y2="367" stroke="#666" stroke-width="1.3"/>
<path d="M337.1 367L339.3 364.8L341.5 367L339.3 369.2Z" fill="#8a8a8a" stroke="#1a1a1a" stroke-width="1.2" stroke-linejoin="miter"/>
<text x="346" y="369.9" font-size="7.6" font-weight="bold" text-anchor="start" fill="#111" textLength="17" lengthAdjust="spacingAndGlyphs" stroke="#111" stroke-width="0.25" >ACH</text>
<line x1="333.5" y1="375.9" x2="345" y2="375.9" stroke="#111" stroke-width="1.2"/>
<rect x="337.1" y="373.7" width="4.4" height="4.4" fill="#fff" stroke="#111" stroke-width="1"/>
<text x="346" y="379" font-size="7.6" font-weight="bold" text-anchor="start" fill="#111" textLength="38.2" lengthAdjust="spacingAndGlyphs" stroke="#111" stroke-width="0.25" >ACH-ENV-</text>
</g>
</svg></body></html>
